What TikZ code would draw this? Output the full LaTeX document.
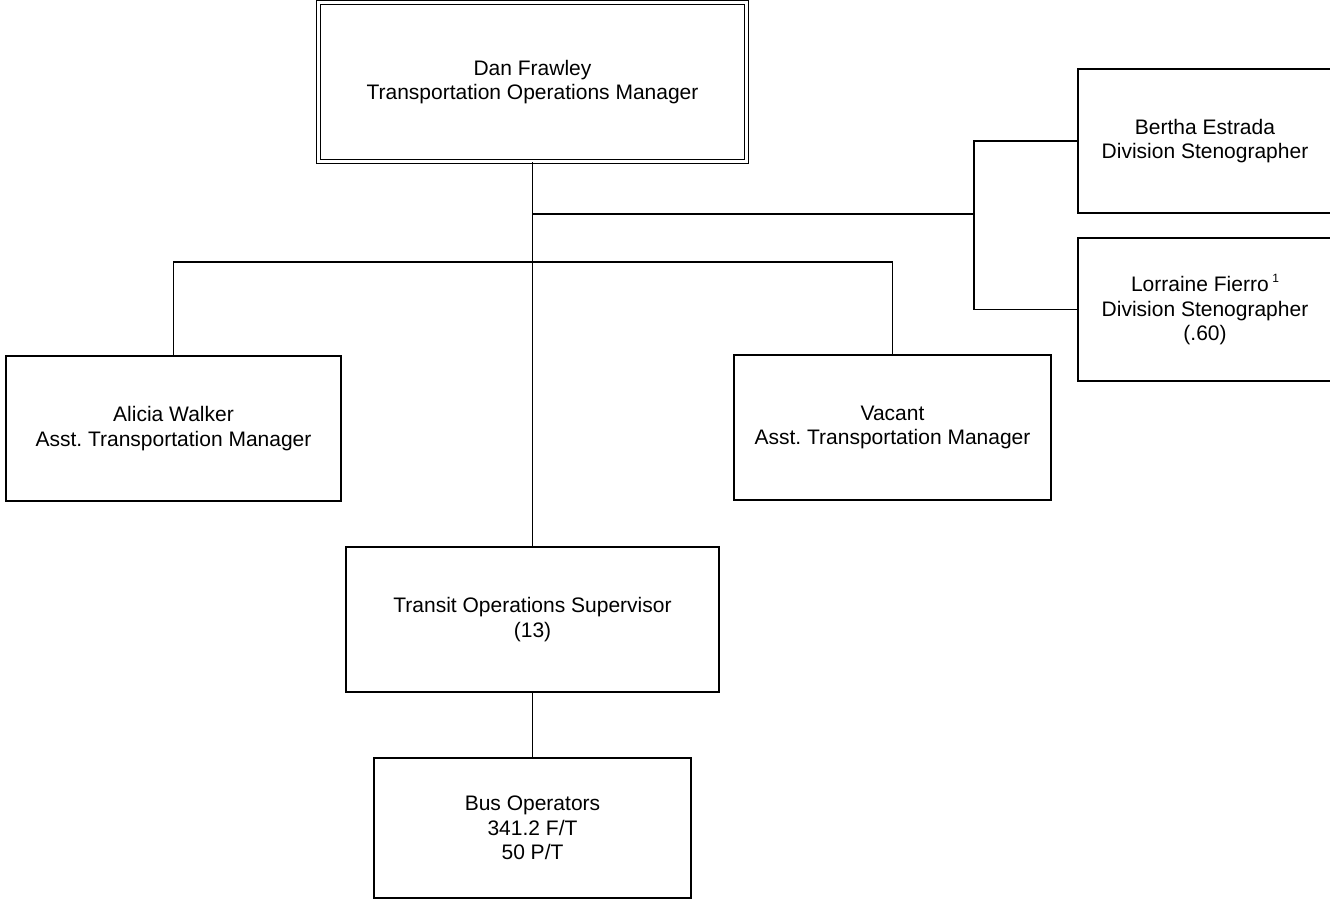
\documentclass[tikz,border=0pt]{standalone}
\usepackage{fontspec}
\setmainfont{Liberation Sans}
\usepackage{tikz}
\usetikzlibrary{positioning, calc}
\frenchspacing
\tikzset{
    base/.style={draw, rectangle, line width=1.2pt, inner sep=0pt, text centered, align=center, font=\fontsize{21}{24.5}\selectfont, fill=white},
    head/.style={base, double, double distance=2.6pt, line width=1pt},
    staff/.style={base, minimum width=254, minimum height=144},
    link/.style={line width=1.3pt, draw=black}
}
\begin{document}
\begin{tikzpicture}[x=1pt, y=-1pt]
        \useasboundingbox (0,0) rectangle (1330,899);

        % Top of the chart
        \node[head, minimum width=428.5, minimum height=159] (boss) at (532.5,82) {Dan Frawley\\Transportation Operations Manager};

        % Staff on the right (running off the edge)
        \node[staff] (bertha) at (1205,141) {Bertha Estrada\\Division Stenographer};
        \node[staff, minimum height=143] (lorraine) at (1205,309.5) {Lorraine Fierro\,\raisebox{0.45em}{\fontsize{12}{12}\selectfont 1}\\Division Stenographer\\(.60)};

        % Assistant managers
        \node[base, minimum width=335, minimum height=145] (alicia) at (173.5,428.5) {Alicia Walker\\Asst. Transportation Manager};
        \node[base, minimum width=317, minimum height=145] (vacant) at (892.5,427.5) {Vacant\\Asst. Transportation Manager};

        % Operations line
        \node[base, minimum width=373, minimum height=145] (transit) at (532.5,619.5) {Transit Operations Supervisor\\(13)};
        \node[base, minimum width=317, minimum height=140] (bus) at (532.5,828) {Bus Operators\\341.2 F/T\\50 P/T};

        % Junction points
        \coordinate (staffbar) at (974,214);
        \coordinate (mgrbar) at (533,262);

        % Connectors
        \draw[link] (boss.south) -- (transit.north);
        \draw[link] (boss.south |- staffbar) -- (staffbar);
        \draw[link] (bertha.west) -| (staffbar) |- (lorraine.west);
        \draw[link] (alicia.north) |- (mgrbar) -| (vacant.north);
        \draw[link] (transit.south) -- (bus.north);
    \end{tikzpicture}
\end{document}
